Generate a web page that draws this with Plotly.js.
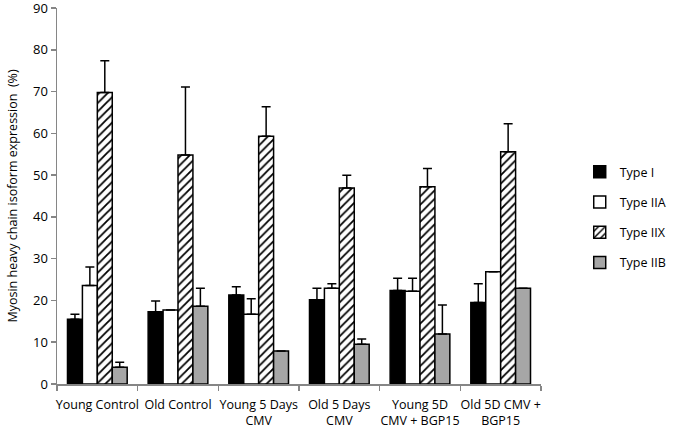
<!DOCTYPE html>
<html><head><meta charset="utf-8">
<script src="https://cdn.plot.ly/plotly-3.0.1.min.js"></script>
<style>html,body{margin:0;padding:0;background:#fff}#c{width:680px;height:432px}</style>
</head><body><div id="c"></div>
<script>
var categories = ["Young Control","Old Control","Young 5 Days<br>CMV","Old 5 Days<br>CMV","Young 5D<br>CMV + BGP15","Old 5D CMV +<br>BGP15"];
var typeI    = [15.5, 17.3, 21.3, 20.2, 22.4, 19.5];
var typeIErr = [1.2, 2.6, 2.0, 2.7, 2.9, 4.5];
var typeIIA    = [23.6, 17.7, 16.7, 22.9, 22.2, 26.9];
var typeIIAErr = [4.4, null, 3.7, 1.1, 3.1, null];
var typeIIX    = [69.8, 54.8, 59.3, 46.9, 47.2, 55.6];
var typeIIXErr = [7.6, 16.3, 7.1, 3.1, 4.4, 6.7];
var typeIIB    = [4.0, 18.6, 7.9, 9.5, 12.0, 22.9];
var typeIIBErr = [1.2, 4.3, null, 1.3, 6.9, null];
var seriesNames = ["Type I","Type IIA","Type IIX","Type IIB"];
var yTicks = [0,10,20,30,40,50,60,70,80,90];

function mk(name, y, err, color, pattern, grp){
  var m = {color: color, line:{color:'#000', width:1.5}};
  if (pattern) m.pattern = {shape:'/', fgcolor:'#000', bgcolor:'#fff', size:6, solidity:0.3};
  return {type:'bar', name:name, x:categories, y:y, marker:m, legendgroup:grp,
    error_y:{type:'data', symmetric:false, array:err, arrayminus:err.map(function(){return 0;}),
      color:'#000', thickness:1.5, width:4.5, visible:true}};
}
var data = [
  mk(seriesNames[0], typeI, typeIErr, '#000000', false, 'a'),
  mk(seriesNames[1], typeIIA, typeIIAErr, '#ffffff', false, 'b'),
  mk(seriesNames[2], typeIIX, typeIIXErr, '#ffffff', true, 'c'),
  mk(seriesNames[3], typeIIB, typeIIBErr, '#a6a6a6', false, 'd')
];
var layout = {
  width:680, height:432,
  margin:{l:57, r:95, t:8, b:48},
  paper_bgcolor:'#fff', plot_bgcolor:'#fff',
  barmode:'group', bargap:0.26, bargroupgap:0,
  font:{family:'"Open Sans", Lato, sans-serif', size:13, color:'#000'},
  xaxis:{type:'category', showgrid:false, showline:true, linecolor:'#868686', linewidth:1.5,
    ticks:'outside', tickson:'boundaries', ticklen:5, tickcolor:'#868686', tickwidth:1.5,
    tickangle:0, tickfont:{size:12.5}, zeroline:false, automargin:false, ticklabelstandoff:8},
  yaxis:{range:[0,90.02], tickmode:'array', tickvals:yTicks, ticktext:yTicks.map(String),
    showgrid:false, showline:true, linecolor:'#868686', linewidth:1.5, ticklabeloverflow:'allow',
    ticks:'outside', ticklen:5, tickcolor:'#868686', tickwidth:1.5, tickfont:{size:13}, zeroline:false,
    automargin:false,
    title:{text:'Myosin heavy chain isoform expression  (%)', font:{size:12.5}, standoff:12}},
  legend:{x:1.08, y:0.444, xanchor:'left', yanchor:'middle', font:{size:12.5}, tracegroupgap:11,
    bgcolor:'rgba(0,0,0,0)', itemwidth:30},
  showlegend:true
};
Plotly.newPlot('c', data, layout, {displayModeBar:false, staticPlot:true});
</script></body></html>
